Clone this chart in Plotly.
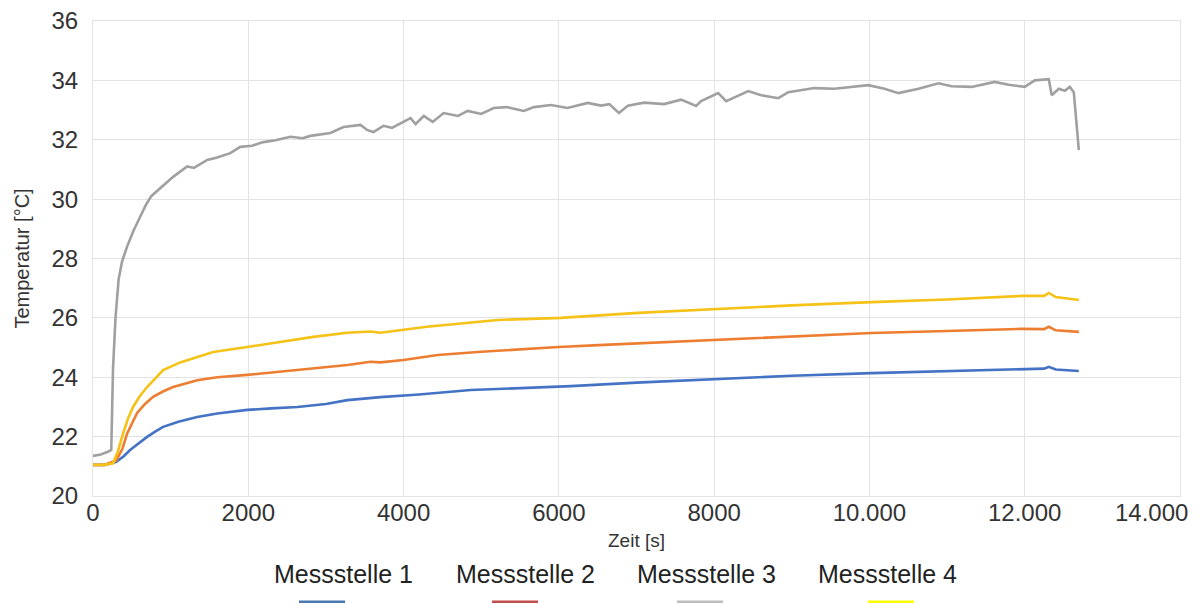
import plotly.graph_objects as go

# Temperaturverlauf an vier Messstellen über die Versuchsdauer

series_names = ["Messstelle 1", "Messstelle 2", "Messstelle 3", "Messstelle 4"]
line_colors = ["#4472C4", "#ED7D31", "#A0A0A0", "#F5C218"]
legend_colors = ["#4A7AB5", "#C0504D", "#BDBDBD", "#FFFF00"]

t_ms1 = [0, 150, 300, 400, 477, 600, 697, 800, 903, 1100, 1342, 1600, 1987, 2300,
         2632, 3000, 3277, 3703, 4200, 4864, 5500, 6155, 7000, 8219, 9000, 10026,
         11000, 11961, 12250, 12310, 12400, 12697]
temp_ms1 = [21.05, 21.05, 21.15, 21.35, 21.55, 21.8, 21.99, 22.17, 22.33, 22.5, 22.66,
            22.78, 22.9, 22.95, 23.0, 23.1, 23.23, 23.33, 23.42, 23.57, 23.64, 23.7,
            23.82, 23.97, 24.05, 24.14, 24.2, 24.28, 24.29, 24.35, 24.26, 24.21]

t_ms2 = [0, 150, 300, 380, 439, 500, 568, 670, 774, 900, 1032, 1342, 1600, 1987, 2300,
         2632, 3000, 3277, 3574, 3703, 4000, 4439, 5000, 5510, 6000, 6581, 7400, 8219,
         9000, 10026, 11000, 11961, 12250, 12310, 12400, 12697]
temp_ms2 = [21.05, 21.05, 21.2, 21.6, 22.1, 22.45, 22.8, 23.1, 23.34, 23.52, 23.67, 23.9,
            24.0, 24.08, 24.16, 24.24, 24.32, 24.41, 24.52, 24.5, 24.58, 24.75, 24.86,
            24.95, 25.02, 25.09, 25.18, 25.29, 25.38, 25.49, 25.56, 25.63, 25.62, 25.7,
            25.58, 25.53]

t_ms3 = [0, 100, 200, 235, 258, 290, 330, 374, 439, 516, 606, 680, 750, 903, 1032, 1213,
         1300, 1471, 1600, 1768, 1897, 2050, 2194, 2350, 2542, 2700, 2800, 3058, 3226,
         3445, 3530, 3613, 3740, 3850, 4000, 4090, 4155, 4260, 4374, 4516, 4700, 4826,
         5000, 5161, 5330, 5548, 5680, 5897, 6110, 6374, 6542, 6650, 6774, 6890, 7097,
         7355, 7574, 7768, 7832, 8052, 8155, 8439, 8606, 8826, 8955, 9290, 9548, 9987,
         10194, 10374, 10632, 10890, 11058, 11316, 11613, 11793, 12000, 12129, 12310,
         12348, 12439, 12516, 12581, 12632, 12697]
temp_ms3 = [21.35, 21.4, 21.5, 21.55, 24.3, 26.0, 27.3, 27.9, 28.4, 28.9, 29.4, 29.8,
            30.1, 30.45, 30.75, 31.1, 31.05, 31.32, 31.4, 31.55, 31.76, 31.8, 31.92,
            31.98, 32.1, 32.05, 32.13, 32.23, 32.43, 32.5, 32.33, 32.26, 32.47, 32.4,
            32.6, 32.73, 32.53, 32.8, 32.6, 32.9, 32.8, 32.97, 32.87, 33.07, 33.1, 32.97,
            33.1, 33.17, 33.07, 33.24, 33.15, 33.2, 32.9, 33.15, 33.25, 33.2, 33.35,
            33.14, 33.3, 33.57, 33.3, 33.64, 33.5, 33.4, 33.6, 33.74, 33.72, 33.84,
            33.72, 33.57, 33.72, 33.9, 33.8, 33.78, 33.95, 33.85, 33.78, 34.0, 34.04,
            33.5, 33.72, 33.65, 33.78, 33.6, 31.65]

t_ms4 = [0, 150, 258, 320, 387, 450, 516, 600, 697, 800, 903, 1123, 1548, 1987, 2413,
         2839, 3277, 3574, 3703, 4300, 5213, 6026, 7019, 8219, 9000, 10026, 11000,
         11961, 12250, 12310, 12400, 12697]
temp_ms4 = [21.05, 21.05, 21.1, 21.5, 22.1, 22.6, 23.0, 23.35, 23.67, 23.97, 24.24, 24.5,
            24.85, 25.02, 25.19, 25.36, 25.5, 25.54, 25.5, 25.7, 25.93, 26.0, 26.17,
            26.33, 26.42, 26.53, 26.62, 26.74, 26.74, 26.84, 26.7, 26.6]

x_tickvals = [0, 2000, 4000, 6000, 8000, 10000, 12000, 14000]
x_ticktext = ["0", "2000", "4000", "6000", "8000", "10.000", "12.000", "14.000"]
y_tickvals = [20, 22, 24, 26, 28, 30, 32, 34, 36]

times = [t_ms1, t_ms2, t_ms3, t_ms4]
temps = [temp_ms1, temp_ms2, temp_ms3, temp_ms4]

TICK_FONT = dict(family="Liberation Sans", size=24, color="#333333")

fig = go.Figure()
for name, tx, ty, col in zip(series_names, times, temps, line_colors):
    fig.add_trace(go.Scatter(x=tx, y=ty, name=name, mode="lines",
                             line=dict(color=col, width=2.6), showlegend=False))

plot_left, plot_right, plot_top, plot_bottom = 93, 1180, 21, 496


def px_to_paper_x(px):
    return (px - plot_left) / (plot_right - plot_left)


def px_to_paper_y(py):
    return (plot_bottom - py) / (plot_bottom - plot_top)


# Legende unter der Grafik: Text oben, Farbbalken darunter
legend_text_x = [343, 525, 706, 887]
legend_swatch_x = [322, 515, 700, 891]
for name, tx, sx, col in zip(series_names, legend_text_x, legend_swatch_x, legend_colors):
    fig.add_annotation(x=px_to_paper_x(tx), y=px_to_paper_y(574), xref="paper", yref="paper",
                       text=name, showarrow=False, xanchor="center", yanchor="middle",
                       font=dict(family="Liberation Sans", size=25, color="#222222"))
    fig.add_shape(type="rect", xref="paper", yref="paper",
                  x0=px_to_paper_x(sx - 23), x1=px_to_paper_x(sx + 23),
                  y0=px_to_paper_y(610), y1=px_to_paper_y(600.5),
                  fillcolor=col, line=dict(width=0))

# letzte Achsenbeschriftung rechtsbündig am Rand, damit sie sichtbar bleibt
axis_labels = list(x_ticktext)
last_label = axis_labels[-1]
axis_labels[-1] = ""
fig.add_annotation(x=x_tickvals[-1], y=0, xref="x", yref="paper", text=last_label,
                   showarrow=False, xanchor="right", yanchor="top", xshift=10, yshift=-1,
                   font=TICK_FONT)

fig.update_layout(
    width=1200, height=603,
    margin=dict(l=plot_left, r=1200 - plot_right, t=plot_top, b=603 - plot_bottom),
    paper_bgcolor="white", plot_bgcolor="white",
    font=dict(family="Liberation Sans", color="#404040"),
)
fig.update_xaxes(
    range=[0, 14000], tickvals=x_tickvals, ticktext=axis_labels, automargin=False,
    showgrid=True, gridcolor="#E3E3E3", gridwidth=1, zeroline=False,
    showline=True, linecolor="#E3E3E3", mirror=True, ticks="",
    ticklabelstandoff=-5,
    tickfont=TICK_FONT,
    title=dict(text="Zeit [s]", font=dict(size=19, color="#333333"), standoff=8),
)
fig.update_yaxes(
    range=[20, 36], tickvals=y_tickvals, automargin=False,
    showgrid=True, gridcolor="#E3E3E3", gridwidth=1, zeroline=False,
    showline=True, linecolor="#E3E3E3", mirror=True, ticks="",
    ticklabelstandoff=9,
    tickfont=TICK_FONT,
    title=dict(text="Temperatur [°C]", font=dict(size=20, color="#333333"), standoff=16),
)

fig.write_html("out.html")
